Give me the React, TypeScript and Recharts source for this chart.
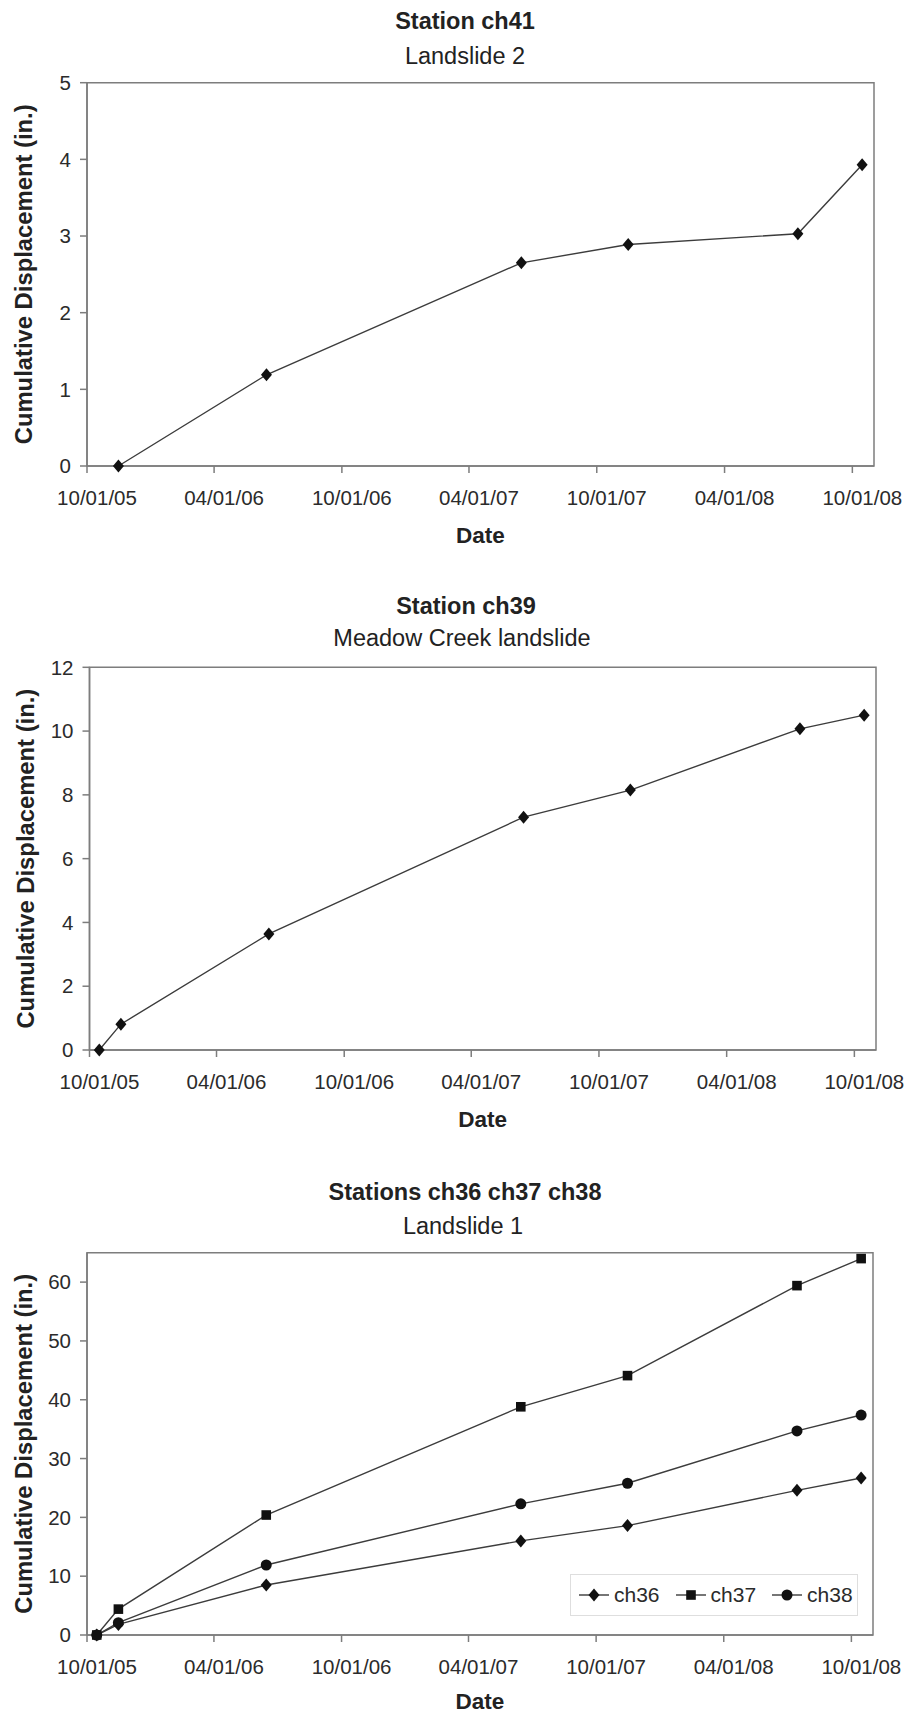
import React from 'react';
import { LineChart, Line, XAxis, YAxis, ReferenceArea, Legend } from 'recharts';

const FONT = '"Liberation Sans", Arial, Helvetica, sans-serif';

// survey dates and readings (inches)
const ch41Dates = ['2005-11-15', '2006-06-15', '2007-06-15', '2007-11-15', '2008-07-15', '2008-10-15'];
const ch41Values = [0, 1.19, 2.65, 2.89, 3.03, 3.93];

const ch39Dates = ['2005-10-15', '2005-11-15', '2006-06-15', '2007-06-15', '2007-11-15', '2008-07-15', '2008-10-15'];
const ch39Values = [0, 0.81, 3.64, 7.3, 8.15, 10.07, 10.5];

const slide1Dates = ['2005-10-15', '2005-11-15', '2006-06-15', '2007-06-15', '2007-11-15', '2008-07-15', '2008-10-15'];
const ch36Values = [0, 1.8, 8.5, 16.0, 18.6, 24.6, 26.7];
const ch37Values = [0, 4.4, 20.4, 38.8, 44.1, 59.4, 64.0];
const ch38Values = [0, 2.1, 11.9, 22.3, 25.8, 34.7, 37.4];

const xTickDates = ['2005-10-01', '2006-04-01', '2006-10-01', '2007-04-01', '2007-10-01', '2008-04-01', '2008-10-01'];
const xStart = '2005-10-01';
const xEnd = '2008-11-01';

const toTime = (s: string) => {
  const [y, m, d] = s.split('-').map(Number);
  return Date.UTC(y, m - 1, d);
};
const pad = (n: number) => String(n).padStart(2, '0');
const fmtDate = (t: number) => {
  const d = new Date(t);
  return `${pad(d.getUTCMonth() + 1)}/${pad(d.getUTCDate())}/${pad(d.getUTCFullYear() % 100)}`;
};

const xDomain = [toTime(xStart), toTime(xEnd)];
const xTicks = xTickDates.map(toTime);

const ch41Data = ch41Dates.map((d, i) => ({ t: toTime(d), v: ch41Values[i] }));
const ch39Data = ch39Dates.map((d, i) => ({ t: toTime(d), v: ch39Values[i] }));
const slide1Data = slide1Dates.map((d, i) => ({
  t: toTime(d),
  ch36: ch36Values[i],
  ch37: ch37Values[i],
  ch38: ch38Values[i],
}));

const LINE = '#3c3c3c';
const MARK = '#111';
const AXIS = '#7d7d7d';

const Diamond = (p: any) => {
  const { cx, cy } = p;
  if (cx == null || cy == null) return null;
  return <path d={`M${cx},${cy - 6.5}L${cx + 5.5},${cy}L${cx},${cy + 6.5}L${cx - 5.5},${cy}Z`} fill={MARK} />;
};
const Square = (p: any) => {
  const { cx, cy } = p;
  if (cx == null || cy == null) return null;
  return <rect x={cx - 4.8} y={cy - 4.8} width={9.6} height={9.6} fill={MARK} />;
};
const Circle = (p: any) => {
  const { cx, cy } = p;
  if (cx == null || cy == null) return null;
  return <circle cx={cx} cy={cy} r={5.5} fill={MARK} />;
};

const DateTick = (p: any) => (
  <text
    x={p.x + 10}
    y={p.y + 22}
    textAnchor="middle"
    dominantBaseline="central"
    fontFamily={FONT}
    fontSize={20.5}
    fill="#2b2b2b"
  >
    {fmtDate(p.payload.value)}
  </text>
);

const YTitle = (p: any) => {
  const vb = p.viewBox;
  const cy = vb.y + vb.height / 2;
  return (
    <text
      x={p.cx}
      y={cy}
      transform={`rotate(-90 ${p.cx} ${cy})`}
      textAnchor="middle"
      dominantBaseline="central"
      fontFamily={FONT}
      fontWeight="bold"
      fontSize={23.8}
      fill="#222"
    >
      Cumulative Displacement (in.)
    </text>
  );
};

const XTitle = (p: any) => {
  const vb = p.viewBox;
  return (
    <text
      x={vb.x + vb.width / 2}
      y={vb.y + p.dy}
      textAnchor="middle"
      dominantBaseline="central"
      fontFamily={FONT}
      fontWeight="bold"
      fontSize={22.5}
      fill="#222"
    >
      Date
    </text>
  );
};

const legendItems = [
  { name: 'ch36', Mark: Diamond },
  { name: 'ch37', Mark: Square },
  { name: 'ch38', Mark: Circle },
];

const Slide1Legend = () => (
  <div
    style={{
      boxSizing: 'border-box',
      width: 288,
      height: 42,
      border: '1.5px solid #dedede',
      display: 'flex',
      alignItems: 'center',
      paddingLeft: 8,
      fontFamily: FONT,
      fontSize: 21,
      color: '#2b2b2b',
    }}
  >
    {legendItems.map(({ name, Mark }) => (
      <div key={name} style={{ display: 'flex', alignItems: 'center', marginRight: 16 }}>
        <svg width={30} height={14} style={{ display: 'block' }}>
          <line x1={0} y1={7} x2={30} y2={7} stroke={LINE} strokeWidth={1.4} />
          <Mark cx={15} cy={7} />
        </svg>
        <span style={{ marginLeft: 5 }}>{name}</span>
      </div>
    ))}
  </div>
);

const Heading = ({ x, y, text, bold }: { x: number; y: number; text: string; bold?: boolean }) => (
  <div
    style={{
      position: 'absolute',
      left: x,
      top: y,
      transform: 'translate(-50%, -50%)',
      whiteSpace: 'nowrap',
      fontFamily: FONT,
      fontSize: 23.5,
      fontWeight: bold ? 'bold' : 'normal',
      color: '#222',
      lineHeight: 1,
    }}
  >
    {text}
  </div>
);

const axisProps = {
  stroke: AXIS,
  strokeWidth: 1.5,
};

const App = () => {
  return (
    <div style={{ position: 'relative', width: 910, height: 1717, background: '#fff' }}>
      <style>{'body{margin:0;background:#fff}'}</style>

      {/* Station ch41 */}
      <div style={{ position: 'absolute', left: 0, top: 0 }}>
        <LineChart width={910} height={560} data={ch41Data} margin={{ top: 82.7, right: 36, bottom: 64, left: 0 }}>
          <XAxis
            dataKey="t"
            type="number"
            domain={xDomain}
            ticks={xTicks}
            allowDataOverflow
            height={30}
            tick={<DateTick />}
            tickSize={7}
            axisLine={axisProps}
            tickLine={axisProps}
            interval={0}
            label={<XTitle dy={69} />}
          />
          <YAxis
            type="number"
            domain={[0, 5]}
            ticks={[0, 1, 2, 3, 4, 5]}
            width={87}
            tickSize={7}
            tickMargin={9}
            tick={{ fontFamily: FONT, fontSize: 20.5, fill: '#2b2b2b' }}
            axisLine={axisProps}
            tickLine={axisProps}
            interval={0}
            label={<YTitle cx={24} />}
          />
          <ReferenceArea x1={xDomain[0]} x2={xDomain[1]} y1={0} y2={5} fill="none" stroke={AXIS} strokeWidth={1.5} />
          <Line dataKey="v" stroke={LINE} strokeWidth={1.4} dot={<Diamond />} isAnimationActive={false} />
        </LineChart>
        <Heading x={465} y={22} text="Station ch41" bold />
        <Heading x={465} y={56.5} text="Landslide 2" />
      </div>

      {/* Station ch39 */}
      <div style={{ position: 'absolute', left: 0, top: 560 }}>
        <LineChart width={910} height={590} data={ch39Data} margin={{ top: 107.3, right: 34, bottom: 70, left: 0 }}>
          <XAxis
            dataKey="t"
            type="number"
            domain={xDomain}
            ticks={xTicks}
            allowDataOverflow
            height={30}
            tick={<DateTick />}
            tickSize={7}
            axisLine={axisProps}
            tickLine={axisProps}
            interval={0}
            label={<XTitle dy={69} />}
          />
          <YAxis
            type="number"
            domain={[0, 12]}
            ticks={[0, 2, 4, 6, 8, 10, 12]}
            width={89.5}
            tickSize={7}
            tickMargin={9}
            tick={{ fontFamily: FONT, fontSize: 20.5, fill: '#2b2b2b' }}
            axisLine={axisProps}
            tickLine={axisProps}
            interval={0}
            label={<YTitle cx={26} />}
          />
          <ReferenceArea x1={xDomain[0]} x2={xDomain[1]} y1={0} y2={12} fill="none" stroke={AXIS} strokeWidth={1.5} />
          <Line dataKey="v" stroke={LINE} strokeWidth={1.4} dot={<Diamond />} isAnimationActive={false} />
        </LineChart>
        <Heading x={466} y={46.5} text="Station ch39" bold />
        <Heading x={462} y={79.4} text="Meadow Creek landslide" />
      </div>

      {/* Stations ch36 ch37 ch38 */}
      <div style={{ position: 'absolute', left: 0, top: 1120 }}>
        <LineChart width={910} height={597} data={slide1Data} margin={{ top: 132.7, right: 37, bottom: 52, left: 0 }}>
          <XAxis
            dataKey="t"
            type="number"
            domain={xDomain}
            ticks={xTicks}
            allowDataOverflow
            height={30}
            tick={<DateTick />}
            tickSize={7}
            axisLine={axisProps}
            tickLine={axisProps}
            interval={0}
            label={<XTitle dy={66} />}
          />
          <YAxis
            type="number"
            domain={[0, 65]}
            ticks={[0, 10, 20, 30, 40, 50, 60]}
            width={87}
            tickSize={7}
            tickMargin={9}
            tick={{ fontFamily: FONT, fontSize: 20.5, fill: '#2b2b2b' }}
            axisLine={axisProps}
            tickLine={axisProps}
            interval={0}
            label={<YTitle cx={24} />}
          />
          <ReferenceArea x1={xDomain[0]} x2={xDomain[1]} y1={0} y2={65} fill="none" stroke={AXIS} strokeWidth={1.5} />
          <Line dataKey="ch36" name="ch36" stroke={LINE} strokeWidth={1.4} dot={<Diamond />} isAnimationActive={false} />
          <Line dataKey="ch37" name="ch37" stroke={LINE} strokeWidth={1.4} dot={<Square />} isAnimationActive={false} />
          <Line dataKey="ch38" name="ch38" stroke={LINE} strokeWidth={1.4} dot={<Circle />} isAnimationActive={false} />
          <Legend
            layout="horizontal"
            verticalAlign="middle"
            align="center"
            content={<Slide1Legend />}
            wrapperStyle={{ left: 570, top: 454, width: 288, height: 42 }}
          />
        </LineChart>
        <Heading x={465} y={72.6} text="Stations ch36 ch37 ch38" bold />
        <Heading x={463} y={106.7} text="Landslide 1" />
      </div>
    </div>
  );
};

export default App;
